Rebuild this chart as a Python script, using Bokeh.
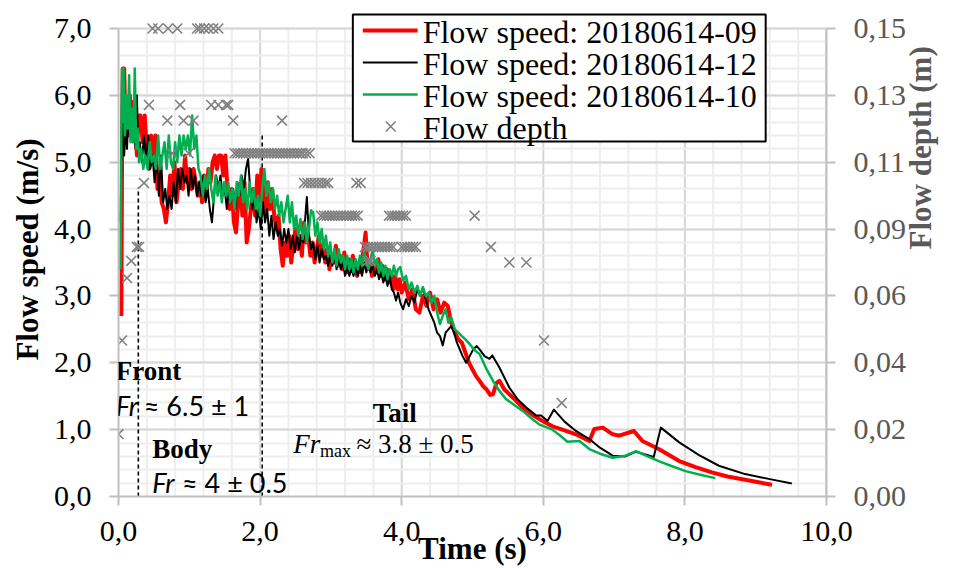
import math
from bokeh.plotting import figure
from bokeh.models import Range1d, LinearAxis, FixedTicker, Label
from bokeh.core.properties import value
from bokeh.embed import file_html
from bokeh.resources import INLINE

# ---------------- data ----------------
t_09 = [0.04,0.05,0.06,0.07,0.08,0.10,0.12,0.14,0.16,0.18,
        0.20,0.22,0.24,0.26,0.28,0.31,0.34,0.37,0.40,0.43,
        0.46,0.49,0.52,0.55,0.58,0.61,0.64,0.67,0.70,0.73,
        0.76,0.79,0.82,0.85,0.88,0.91,0.94,0.97,1.00,1.03,
        1.06,1.09,1.12,1.15,1.18,1.21,1.24,1.27,1.30,1.33,
        1.36,1.39,1.42,1.45,1.48,1.51,1.54,1.57,1.60,1.63,
        1.66,1.69,1.72,1.75,1.78,1.81,1.84,1.87,1.90,1.93,
        1.96,1.99,2.02,2.05,2.08,2.11,2.14,2.17,2.20,2.23,
        2.26,2.29,2.32,2.35,2.38,2.41,2.44,2.47,2.50,2.53,
        2.56,2.59,2.62,2.65,2.68,2.71,2.74,2.77,2.80,2.83,
        2.86,2.89,2.92,2.95,2.98,3.01,3.04,3.07,3.10,3.13,
        3.16,3.19,3.22,3.25,3.28,3.31,3.34,3.37,3.40,3.43,
        3.46,3.49,3.52,3.55,3.58,3.61,3.64,3.67,3.70,3.73,
        3.76,3.79,3.82,3.85,3.88,3.91,3.94,3.97,4.00,4.05,
        4.10,4.15,4.20,4.25,4.30,4.35,4.40,4.45,4.50,4.55,
        4.60,4.65,4.70,4.75,4.80,4.85,4.90,4.95,5.00,5.05,
        5.10,5.15,5.20,5.25,5.29,5.34,5.38,5.45,5.57,5.71,
        5.85,5.99,6.13,6.27,6.46,6.65,6.72,6.84,6.98,7.07,
        7.28,7.40,7.63,7.92,8.15,8.38,8.60,8.85,9.23]
v_09 = [2.7,5.0,6.4,5.2,6.4,5.5,5.9,5.4,6.0,5.4,
        5.9,5.4,5.6,5.1,5.7,5.7,5.3,5.7,5.2,4.9,
        5.4,5.0,5.4,4.6,4.8,4.4,4.3,4.1,4.4,4.8,
        4.5,5.0,4.4,4.7,4.9,4.6,5.1,4.7,4.9,4.6,
        4.9,4.7,4.5,4.7,4.4,4.8,4.5,4.9,4.7,5.0,
        5.1,4.9,5.1,5.1,4.8,5.1,4.6,4.3,4.6,4.1,
        3.95,4.4,4.6,4.2,4.7,3.8,4.0,4.3,4.6,4.2,
        4.8,4.4,4.9,4.5,4.2,4.7,4.3,4.6,4.2,4.0,
        4.2,3.7,3.45,3.8,3.6,3.9,3.5,3.8,4.0,3.7,
        3.9,3.6,4.1,3.8,3.9,3.6,3.8,3.5,3.7,3.9,
        3.6,3.75,3.5,3.7,3.4,3.6,3.5,3.75,3.45,3.6,
        3.4,3.65,3.35,3.55,3.4,3.6,3.45,3.3,3.5,3.35,
        3.7,3.95,3.4,3.5,3.3,3.5,3.35,3.55,3.3,3.45,
        3.25,3.4,3.2,3.35,3.1,3.3,3.1,3.25,3.05,3.2,
        2.95,3.1,2.8,2.75,3.0,2.85,3.05,2.8,2.95,2.75,
        2.9,2.85,2.6,2.45,2.35,2.3,2.15,2.0,1.9,1.8,
        1.73,1.65,1.6,1.52,1.53,1.7,1.73,1.6,1.48,1.33,
        1.22,1.13,1.05,1.0,0.93,0.83,1.01,1.03,0.93,0.91,
        0.98,0.83,0.71,0.53,0.44,0.36,0.3,0.25,0.175]

t_12 = [0.03,0.04,0.06,0.08,0.10,0.12,0.14,0.16,0.18,0.20,
        0.22,0.24,0.26,0.28,0.30,0.33,0.36,0.39,0.42,0.45,
        0.48,0.51,0.54,0.57,0.60,0.63,0.66,0.69,0.72,0.75,
        0.78,0.81,0.84,0.87,0.90,0.93,0.96,0.99,1.02,1.05,
        1.08,1.11,1.14,1.17,1.20,1.23,1.26,1.29,1.32,1.35,
        1.38,1.41,1.44,1.47,1.50,1.53,1.56,1.59,1.62,1.65,
        1.68,1.71,1.74,1.77,1.80,1.83,1.86,1.89,1.92,1.95,
        1.98,2.01,2.04,2.07,2.10,2.13,2.16,2.19,2.22,2.25,
        2.28,2.31,2.34,2.37,2.40,2.43,2.46,2.49,2.52,2.55,
        2.58,2.61,2.64,2.66,2.69,2.72,2.75,2.78,2.81,2.84,
        2.87,2.90,2.93,2.96,2.99,3.02,3.05,3.08,3.11,3.14,
        3.17,3.20,3.23,3.26,3.29,3.32,3.35,3.38,3.41,3.44,
        3.47,3.50,3.53,3.56,3.59,3.62,3.65,3.68,3.71,3.74,
        3.77,3.80,3.83,3.86,3.89,3.92,3.95,3.98,4.02,4.06,
        4.10,4.14,4.18,4.22,4.26,4.30,4.34,4.38,4.42,4.46,
        4.50,4.54,4.58,4.62,4.66,4.70,4.74,4.78,4.82,4.86,
        4.91,4.96,5.01,5.06,5.10,5.17,5.24,5.28,5.38,5.52,
        5.64,5.76,5.90,5.97,6.06,6.15,6.30,6.46,6.65,6.80,
        6.98,7.16,7.31,7.56,7.66,7.92,8.20,8.48,8.85,9.20,9.51]
v_12 = [4.1,5.0,5.7,5.1,5.6,5.2,5.7,5.4,5.6,5.3,
        5.6,5.2,6.0,5.1,5.3,5.0,5.4,5.0,5.4,4.9,
        5.1,4.7,5.1,4.5,5.1,4.4,4.6,4.3,4.5,4.3,
        4.7,4.4,4.9,4.6,4.9,4.7,4.8,4.5,4.9,4.6,
        4.8,4.5,4.7,4.5,4.8,4.4,4.6,4.3,4.1,4.5,
        4.8,4.6,4.8,4.5,4.6,4.3,4.6,4.4,4.6,4.3,
        4.7,4.5,4.8,4.6,4.9,5.05,4.6,4.3,4.5,4.1,
        4.3,4.0,4.4,4.1,4.3,3.9,4.2,3.85,4.1,3.9,
        4.0,3.75,4.0,3.8,4.0,3.7,3.9,3.65,3.9,3.7,
        3.9,3.8,4.2,4.48,3.9,3.7,3.8,3.55,3.75,3.5,
        3.7,3.55,3.6,3.45,3.6,3.45,3.6,3.4,3.55,3.4,
        3.5,3.3,3.45,3.3,3.4,3.3,3.45,3.3,3.45,3.3,
        3.5,3.35,3.5,3.35,3.45,3.3,3.4,3.25,3.35,3.2,
        3.3,3.15,3.3,3.1,3.05,2.93,3.05,2.9,2.8,2.95,
        2.85,3.0,2.9,3.1,3.0,3.13,2.95,2.8,2.7,2.6,
        2.45,2.4,2.26,2.45,2.5,2.55,2.45,2.3,2.2,2.1,
        2.0,2.1,2.2,2.25,2.2,2.1,2.06,2.11,1.93,1.63,
        1.45,1.33,1.21,1.21,1.13,1.3,1.12,0.98,0.86,0.73,
        0.61,0.6,0.67,0.59,1.03,0.81,0.62,0.46,0.335,0.26,0.195]

t_10 = [0.03,0.04,0.05,0.06,0.07,0.09,0.11,0.13,0.15,0.17,
        0.19,0.21,0.23,0.25,0.27,0.29,0.32,0.35,0.38,0.41,
        0.44,0.47,0.50,0.53,0.56,0.59,0.62,0.65,0.68,0.71,
        0.74,0.77,0.80,0.83,0.86,0.89,0.92,0.95,0.98,1.01,
        1.04,1.07,1.10,1.13,1.16,1.19,1.22,1.25,1.28,1.31,
        1.34,1.37,1.40,1.43,1.46,1.49,1.52,1.55,1.58,1.61,
        1.64,1.67,1.70,1.73,1.76,1.79,1.82,1.85,1.88,1.91,
        1.94,1.97,2.00,2.03,2.06,2.09,2.12,2.15,2.18,2.21,
        2.24,2.27,2.30,2.33,2.36,2.39,2.42,2.45,2.48,2.51,
        2.54,2.57,2.60,2.63,2.66,2.69,2.72,2.75,2.78,2.81,
        2.84,2.87,2.90,2.93,2.96,2.99,3.02,3.05,3.08,3.11,
        3.14,3.17,3.20,3.23,3.26,3.29,3.32,3.35,3.38,3.41,
        3.44,3.47,3.50,3.53,3.56,3.59,3.62,3.65,3.68,3.71,
        3.74,3.77,3.80,3.83,3.86,3.89,3.92,3.95,3.98,4.02,
        4.06,4.10,4.14,4.18,4.22,4.26,4.30,4.34,4.38,4.42,
        4.46,4.50,4.54,4.58,4.62,4.66,4.70,4.75,4.80,4.85,
        4.90,4.96,5.02,5.10,5.20,5.29,5.38,5.47,5.59,5.71,
        5.83,5.94,6.13,6.25,6.34,6.51,6.65,6.80,6.98,7.16,
        7.31,7.45,7.63,7.80,8.01,8.20,8.43]
v_10 = [3.4,5.4,6.4,5.6,6.4,5.4,6.0,5.5,6.3,5.3,
        5.8,5.3,6.4,5.2,5.5,5.0,5.2,4.9,5.1,4.9,
        5.3,5.0,5.1,4.9,5.4,4.9,5.1,5.3,4.9,5.4,
        5.0,4.9,5.3,5.0,5.4,5.1,5.4,5.2,5.4,5.1,
        5.7,5.2,5.4,4.9,4.8,4.5,4.8,4.6,4.9,4.6,
        4.4,4.8,4.5,4.7,4.4,4.7,4.5,4.7,4.4,4.6,
        4.3,4.7,4.5,4.8,4.4,4.6,4.3,4.7,4.4,4.6,
        4.3,4.5,4.2,4.6,4.9,4.5,4.7,4.4,4.6,4.3,
        4.5,4.2,4.4,4.1,4.3,4.5,4.1,4.4,4.0,4.2,
        3.9,4.15,3.85,4.1,3.8,4.0,4.28,4.25,3.9,4.1,
        3.8,4.0,3.7,3.9,3.6,3.8,3.5,3.7,3.45,3.7,
        3.5,3.6,3.4,3.6,3.4,3.55,3.35,3.55,3.4,3.6,
        3.45,3.65,3.5,3.4,3.55,3.7,3.45,3.55,3.35,3.5,
        3.3,3.45,3.25,3.4,3.3,3.45,3.3,3.4,3.43,3.23,
        3.3,3.1,3.2,3.05,3.15,3.0,3.13,3.0,3.05,2.9,
        3.0,2.75,2.58,2.7,2.8,2.6,2.68,2.5,2.45,2.4,
        2.35,2.28,2.2,2.13,1.9,1.73,1.58,1.46,1.37,1.28,
        1.17,1.08,1.0,0.9,0.82,0.83,0.71,0.64,0.58,0.61,
        0.68,0.61,0.53,0.46,0.38,0.33,0.275]

depth_points = [
    (0.00, 0.020), (0.05, 0.050), (0.12, 0.070), (0.18, 0.0755),
    (0.26, 0.080), (0.29, 0.080), (0.36, 0.1005),
    (0.48, 0.150), (0.56, 0.150), (0.70, 0.150), (0.83, 0.150), (1.11, 0.150),
    (1.15, 0.150), (1.21, 0.150), (1.27, 0.150), (1.34, 0.150), (1.41, 0.150),
    (0.43, 0.1255), (0.87, 0.1255), (1.31, 0.1255), (1.41, 0.1255), (1.52, 0.1255), (1.55, 0.1255),
    (0.69, 0.1205), (0.92, 0.1205), (1.06, 0.1205), (1.62, 0.1205), (2.31, 0.1205),
    (0.76, 0.110), (0.99, 0.110), (1.64, 0.110), (1.68, 0.110), (1.72, 0.110), (1.76, 0.110),
    (1.80, 0.110), (1.84, 0.110), (1.88, 0.110), (1.92, 0.110), (1.96, 0.110), (2.00, 0.110),
    (2.04, 0.110), (2.08, 0.110), (2.12, 0.110), (2.16, 0.110), (2.20, 0.110), (2.24, 0.110),
    (2.28, 0.110), (2.32, 0.110), (2.36, 0.110), (2.40, 0.110), (2.44, 0.110), (2.48, 0.110),
    (2.52, 0.110), (2.56, 0.110), (2.60, 0.110), (2.65, 0.110), (2.70, 0.110),
    (2.62, 0.1005), (2.67, 0.1005), (2.72, 0.1005), (2.77, 0.1005), (2.82, 0.1005),
    (2.87, 0.1005), (2.92, 0.1005), (2.96, 0.1005), (3.36, 0.1005), (3.42, 0.1005),
    (2.86, 0.090), (2.90, 0.090), (2.94, 0.090), (2.98, 0.090), (3.02, 0.090), (3.06, 0.090),
    (3.10, 0.090), (3.14, 0.090), (3.18, 0.090), (3.22, 0.090), (3.26, 0.090), (3.30, 0.090),
    (3.34, 0.090), (3.38, 0.090), (3.82, 0.090), (3.86, 0.090), (3.90, 0.090), (3.94, 0.090),
    (3.98, 0.090), (4.02, 0.090), (4.06, 0.090), (5.03, 0.090),
    (3.48, 0.080), (3.52, 0.080), (3.56, 0.080), (3.60, 0.080), (3.64, 0.080), (3.68, 0.080),
    (3.72, 0.080), (3.76, 0.080), (3.80, 0.080), (3.84, 0.080), (3.88, 0.080),
    (4.00, 0.080), (4.04, 0.080), (4.08, 0.080), (4.12, 0.080), (4.16, 0.080), (4.20, 0.080),
    (5.26, 0.080), (3.52, 0.0755), (3.56, 0.0755), (5.52, 0.075), (5.76, 0.075),
    (6.01, 0.050), (6.26, 0.030),
]
depth_t = [pt[0] for pt in depth_points]
depth_m = [pt[1] for pt in depth_points]

dash_x = [0.28, 2.03]
dash_top = [4.62, 5.4]

x_ticks = [0, 2, 4, 6, 8, 10]
x_tick_labels = ["0,0", "2,0", "4,0", "6,0", "8,0", "10,0"]
y_ticks = [0, 1, 2, 3, 4, 5, 6, 7]
y_tick_labels = ["0,0", "1,0", "2,0", "3,0", "4,0", "5,0", "6,0", "7,0"]
d_ticks = [0.15 * k / 7 for k in range(8)]
d_tick_labels = ["0,00", "0,02", "0,04", "0,06", "0,09", "0,11", "0,13", "0,15"]

legend_labels = ["Flow speed: 20180614-09", "Flow speed: 20180614-12",
                 "Flow speed: 20180614-10", "Flow depth"]

SERIF = "Liberation Serif"
SANS = "Lato"

# ---------------- layout ----------------
W, H = 958, 568
FL, FR, FT, FB = 118, 828, 2, 496          # frame edges in pixels
PX_PER_UNIT = (FB - 28) / 7.0              # 7,0 gridline sits at y = 28
PX_PER_S = (FR - FL) / 10.0
Y_TOP = (FB - FT) / PX_PER_UNIT            # range top so that the legend fits in the frame
D_TOP = 0.15 * Y_TOP / 7.0

def sx(px):   # page pixel -> time units (for layout of the legend box)
    return (px - FL) / PX_PER_S

def sy(py):   # page pixel -> speed units
    return (FB - py) / PX_PER_UNIT

p = figure(width=W, height=H, output_backend="svg", toolbar_location=None,
           x_range=Range1d(0, 10), y_range=Range1d(0, Y_TOP),
           min_border_left=FL, min_border_right=W - FR,
           min_border_top=FT, min_border_bottom=H - FB)
p.outline_line_color = None
p.background_fill_color = "white"
p.border_fill_color = "white"
p.extra_y_ranges = {"depth": Range1d(0, D_TOP)}

GRID = "#d6d6d6"
MINOR = "#eeeeee"
AX = "#bfbfbf"

x_minor = [i * 0.4 for i in range(26) if (i * 0.4) % 2 > 0.01 and (i * 0.4) % 2 < 1.99]
y_minor = [i * 0.2 for i in range(36)]

# vertical grid drawn as segments so that it stops at 7,0
p.xgrid.visible = False
p.segment(x0=x_minor, y0=[0] * len(x_minor), x1=x_minor, y1=[7] * len(x_minor),
          line_color=MINOR, line_width=2, level="underlay")
p.segment(x0=x_ticks[1:-1], y0=[0] * 4, x1=x_ticks[1:-1], y1=[7] * 4,
          line_color=GRID, line_width=2, level="underlay")
p.segment(x0=[10], y0=[0], x1=[10], y1=[7], line_color=AX, line_width=2, level="underlay")

p.xaxis.ticker = FixedTicker(ticks=x_ticks)
p.yaxis.ticker = FixedTicker(ticks=y_ticks, minor_ticks=y_minor)
p.xaxis.major_label_overrides = dict(zip(x_ticks, x_tick_labels))
p.yaxis.major_label_overrides = dict(zip(y_ticks, y_tick_labels))
p.yaxis.bounds = (0, 7)
for ax in (p.xaxis[0], p.yaxis[0]):
    ax.axis_line_color = AX
    ax.axis_line_width = 2
    ax.major_tick_line_color = AX
    ax.major_tick_line_width = 2
    ax.major_tick_out = 9
    ax.major_tick_in = 0
    ax.minor_tick_line_color = None
    ax.major_label_text_font = SERIF
    ax.major_label_text_font_size = "30px"
    ax.major_label_text_color = "black"
    ax.axis_label_text_font = SERIF
    ax.axis_label_text_font_size = "31px"
    ax.axis_label_text_font_style = "bold"
    ax.axis_label_text_color = "black"
p.xaxis.major_label_standoff = 16
p.yaxis.major_label_standoff = 18
p.xaxis.axis_label = "Time (s)"
p.xaxis.axis_label_text_line_height = 0.5
p.xaxis.axis_label_standoff = -13
p.yaxis.axis_label = "Flow speed (m/s)"
p.yaxis.axis_label_standoff = 6

p.ygrid.grid_line_color = GRID
p.ygrid.grid_line_width = 2
p.ygrid.minor_grid_line_color = MINOR
p.ygrid.minor_grid_line_width = 2
p.ygrid.level = "underlay"

rax = LinearAxis(y_range_name="depth", ticker=FixedTicker(ticks=d_ticks),
                 major_label_overrides=dict(zip(d_ticks, d_tick_labels)),
                 bounds=(0, 0.15))
rax.axis_line_color = AX
rax.axis_line_width = 2
rax.major_tick_line_color = AX
rax.major_tick_line_width = 2
rax.major_tick_out = 9
rax.major_tick_in = 0
rax.minor_tick_line_color = None
rax.major_label_text_font = SERIF
rax.major_label_text_font_size = "30px"
rax.major_label_text_color = "#595959"
rax.major_label_standoff = 18
rax.axis_label = "Flow depth (m)"
rax.axis_label_text_font = SERIF
rax.axis_label_text_font_size = "31px"
rax.axis_label_text_font_style = "bold"
rax.axis_label_text_color = "#595959"
rax.axis_label_standoff = 11
rax.axis_label_orientation = math.pi / 2
p.add_layout(rax, "right")

# dashed separators
p.segment(x0=dash_x, y0=[0, 0], x1=dash_x, y1=dash_top,
          line_color="black", line_width=1.6, line_dash="4 3")

RED, BLACK, GREEN, GRAY = "#ff0000", "black", "#00b050", "#808080"
p.line(t_09, v_09, line_color=RED, line_width=4, line_join="round")
p.line(t_12, v_12, line_color=BLACK, line_width=2, line_join="round")
p.line(t_10, v_10, line_color=GREEN, line_width=2.5, line_join="round")
p.scatter(depth_t, depth_m, marker="x", size=14, line_color=GRAY,
          line_width=1.6, y_range_name="depth")

# ---------------- legend box (drawn in the frame, top-right) ----------------
row_y = [30, 62, 94, 126]
p.quad(left=[sx(353)], right=[sx(767)], top=[sy(14)], bottom=[sy(141)],
       fill_color="white", line_color="black", line_width=2)
p.line([sx(363), sx(418)], [sy(row_y[0])] * 2, line_color=RED, line_width=4)
p.line([sx(363), sx(418)], [sy(row_y[1])] * 2, line_color=BLACK, line_width=2)
p.line([sx(363), sx(418)], [sy(row_y[2])] * 2, line_color=GREEN, line_width=2.5)
p.scatter([sx(391)], [sy(row_y[3])], marker="x", size=14, line_color=GRAY, line_width=1.6)
p.text(x=[sx(423)] * 4, y=[sy(r + 9.5 - 8) for r in row_y], text=legend_labels,
       text_font=value(SERIF), text_font_size="32px", text_color="black",
       text_align="left", text_baseline="alphabetic")

def lab(x, y, text, font=SERIF, size="27px", style="normal", color="black"):
    p.add_layout(Label(x=x, y=y + 0.12, x_units="data", y_units="data", text=text,
                       text_font=font, text_font_size=size, text_font_style=style,
                       text_color=color, text_align="left", text_baseline="alphabetic"))

# region annotations
lab(-0.04, 1.757, "Front", style="bold")
lab(-0.04, 1.243, "Fr", font=SANS, size="27px", style="italic")
lab(0.357, 1.243, "≈ 6.5 ± 1", font=SANS, size="27px")
lab(0.475, 0.594, "Body", style="bold")
lab(0.475, 0.096, "Fr", font=SANS, size="27px", style="italic")
lab(0.897, 0.096, "≈ 4 ± 0.5", font=SANS, size="27px")
lab(3.59, 1.133, "Tail", style="bold")
lab(2.469, 0.66, "Fr", size="27px", style="italic")
lab(2.845, 0.56, "max", size="18px")
lab(3.36, 0.66, "≈ 3.8 ± 0.5", size="27px")

open("out.html", "w").write(file_html(p, INLINE))
